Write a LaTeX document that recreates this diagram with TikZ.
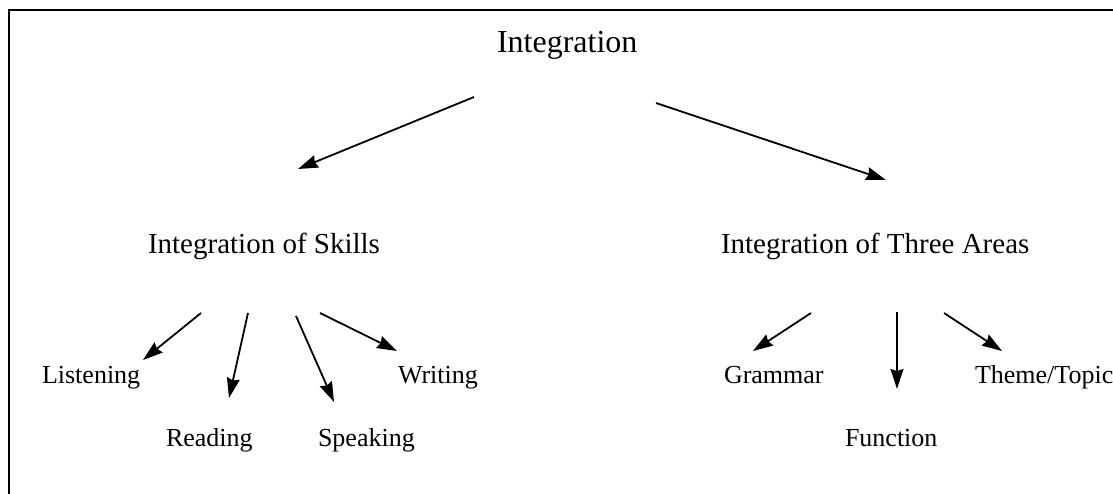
\documentclass[tikz,border=0pt]{standalone}
\usepackage{fontspec}
\setmainfont{Liberation Serif}
\usetikzlibrary{arrows.meta}
\begin{document}
\begin{tikzpicture}[x=1pt,y=-1pt,
  lbl/.style={anchor=base west,inner sep=0pt,outer sep=0pt},
  top/.style={lbl,font=\fontsize{32}{36}\selectfont},
  mid/.style={lbl,font=\fontsize{29}{33}\selectfont},
  leaf/.style={lbl,font=\fontsize{26}{30}\selectfont},
  arr/.style={line width=1.8pt,-{Stealth[length=20pt,width=13pt,inset=2pt]}}]
\useasboundingbox (0,0) rectangle (1113,493);
\begin{scope}
\clip (0,0) rectangle (1113,493);
\draw[line width=2pt] (1200,9.5) -- (8.5,9.5) -- (8.5,600);
\end{scope}
% texts
\node[top] (integ) at (497,52) {Integration};
\node[mid] (skills) at (148,253) {Integration of Skills};
\node[mid] (areas) at (721,253) {Integration of Three Areas};
\node[leaf] (listen) at (42,383) {Listening};
\node[leaf] (read) at (166,446) {Reading};
\node[leaf] (speak) at (318,446) {Speaking};
\node[leaf] (write) at (398,383) {Writing};
\node[leaf] (gram) at (724,383) {Grammar};
\node[leaf] (func) at (845,446) {Function};
\node[leaf] (theme) at (975,383) {Theme/Topic};
% arrow endpoints
\coordinate (a1s) at (474,97);  \coordinate (a1e) at (298,169);
\coordinate (a2s) at (656,103); \coordinate (a2e) at (886,180);
\coordinate (l1s) at (201,313); \coordinate (l1e) at (143,360);
\coordinate (l2s) at (248,313); \coordinate (l2e) at (229,398);
\coordinate (l3s) at (296,316); \coordinate (l3e) at (334,402);
\coordinate (l4s) at (320,313); \coordinate (l4e) at (397,351);
\coordinate (r1s) at (811,313); \coordinate (r1e) at (753,351);
\coordinate (r2s) at (897,312); \coordinate (r2e) at (897,389);
\coordinate (r3s) at (944,313); \coordinate (r3e) at (1002,351);
\draw[arr] (a1s) -- (a1e);
\draw[arr] (a2s) -- (a2e);
\draw[arr] (l1s) -- (l1e);
\draw[arr] (l2s) -- (l2e);
\draw[arr] (l3s) -- (l3e);
\draw[arr] (l4s) -- (l4e);
\draw[arr] (r1s) -- (r1e);
\draw[arr] (r2s) -- (r2e);
\draw[arr] (r3s) -- (r3e);
\end{tikzpicture}
\end{document}
